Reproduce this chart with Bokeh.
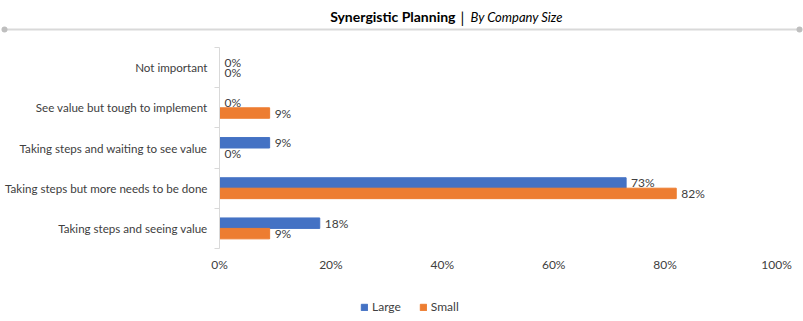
from bokeh.plotting import figure
from bokeh.layouts import column, row
from bokeh.models import (ColumnDataSource, Range1d, FixedTicker, PrintfTickFormatter, LinearAxis,
                          Legend, LegendItem, Grid)
from bokeh.core.properties import value
from bokeh.transform import dodge
from bokeh.embed import file_html
from bokeh.resources import INLINE

categories = ["Not important", "See value but tough to implement",
              "Taking steps and waiting to see value",
              "Taking steps but more needs to be done",
              "Taking steps and seeing value"]
large = [0, 0, 9, 73, 18]
small = [0, 9, 0, 82, 9]
series_names = ["Large", "Small"]
x_ticks = [0, 20, 40, 60, 80, 100]
title_main = "Synergistic Planning"
title_sub = "By Company Size"

BLUE = "#4472C4"
ORANGE = "#ED7D31"
TXT = "#404040"
FONT = "Lato"
W = 803


def hide_grids(fig):
    for r in list(fig.center):
        if isinstance(r, Grid):
            r.visible = False


# ---------- title strip ----------
t = figure(width=W, height=40, x_range=Range1d(0, W), y_range=Range1d(40, 0),
           output_backend="svg", toolbar_location=None,
           x_axis_location=None, y_axis_location=None,
           min_border_left=0, min_border_right=0, min_border_top=0, min_border_bottom=0)
t.outline_line_color = None
hide_grids(t)
t.text(x=[455], y=[16], text=[title_main], text_font=value(FONT), text_font_style="bold",
       text_font_size="14px", text_align="right", text_baseline="middle", text_color="#000000")
t.text(x=[462], y=[16], text=["|"], text_font=value(FONT), text_font_size="15px",
       text_align="center", text_baseline="middle", text_color="#000000")
t.text(x=[470], y=[16], text=[title_sub], text_font=value(FONT), text_font_style="italic",
       text_font_size="13px", text_align="left", text_baseline="middle", text_color="#000000")
t.segment(x0=[4], y0=[29], x1=[799], y1=[29], line_color="#d9d9d9", line_width=2)
t.scatter(x=[4, 799], y=[29, 29], size=6, marker="circle", fill_color="#bfbfbf", line_color=None)

# ---------- main chart ----------
n = len(categories)
ypos = [n - 1 - i + 0.5 for i in range(n)]

src = ColumnDataSource(dict(
    y=ypos, large=large, small=small,
    large_lbl=[f"{v}%" for v in large],
    small_lbl=[f"{v}%" for v in small],
))

p = figure(width=W, height=253, x_range=Range1d(0, 100), y_range=Range1d(0, n),
           output_backend="svg", toolbar_location=None,
           x_axis_location=None, y_axis_location=None,
           min_border_left=219, min_border_right=27, min_border_top=7, min_border_bottom=45)
p.outline_line_color = None
hide_grids(p)

off = 0.13
bh = 0.26
r_large = p.hbar(y=dodge("y", off, range=p.y_range), left=0, right="large", height=bh,
                 color=BLUE, source=src)
r_small = p.hbar(y=dodge("y", -off, range=p.y_range), left=0, right="small", height=bh,
                 color=ORANGE, source=src)

lbl_kw = dict(x_offset=5, text_baseline="middle", text_align="left",
              text_font=value(FONT), text_font_size="12px", text_color=TXT, source=src)
p.text(x="large", y=dodge("y", off, range=p.y_range), text="large_lbl", **lbl_kw)
p.text(x="small", y=dodge("y", -off, range=p.y_range), text="small_lbl", **lbl_kw)

overrides = {}
for yv, c in zip(ypos, categories):
    overrides[yv] = c
    overrides[str(yv)] = c
yaxis = LinearAxis(ticker=FixedTicker(ticks=ypos, minor_ticks=list(range(n + 1))),
                   major_label_overrides=overrides,
                   axis_line_color="#d9d9d9", major_tick_line_color=None,
                   major_tick_out=0, major_tick_in=0,
                   minor_tick_out=5, minor_tick_in=0, minor_tick_line_color="#d9d9d9",
                   major_label_standoff=7, major_label_text_font=FONT,
                   major_label_text_font_size="11.6px", major_label_text_color=TXT)
p.add_layout(yaxis, "left")

xaxis = LinearAxis(ticker=FixedTicker(ticks=x_ticks), formatter=PrintfTickFormatter(format="%d%%"),
                   axis_line_color=None, major_tick_line_color=None, minor_tick_line_color=None,
                   major_tick_out=0, major_tick_in=0, major_label_standoff=8,
                   major_label_text_font=FONT, major_label_text_font_size="12px",
                   major_label_text_color=TXT)
p.add_layout(xaxis, "below")

# ---------- legend strip ----------
lg = figure(width=W, height=28, x_range=Range1d(1000, 1001), y_range=Range1d(1000, 1001),
            output_backend="svg", toolbar_location=None,
            x_axis_location=None, y_axis_location=None,
            min_border_left=0, min_border_right=0, min_border_top=0, min_border_bottom=0)
lg.outline_line_color = None
hide_grids(lg)
# swatch renderers share the data but lie outside this strip's ranges (only legend shows)
sw_large = lg.hbar(y="y", left=0, right="large", height=bh, color=BLUE, source=src)
sw_small = lg.hbar(y="y", left=0, right="small", height=bh, color=ORANGE, source=src)
legend = Legend(items=[LegendItem(label=series_names[0], renderers=[sw_large]),
                       LegendItem(label=series_names[1], renderers=[sw_small])],
                location=(360, 7), orientation="horizontal",
                border_line_color=None, background_fill_alpha=0, padding=0, margin=0,
                spacing=18, glyph_width=8, glyph_height=8, label_standoff=4,
                label_height=14, label_text_font=FONT, label_text_font_size="12px",
                label_text_color=TXT)
lg.add_layout(legend, "center")

layout = column(row(t), p, row(lg), spacing=0)
open("out.html", "w").write(file_html(layout, INLINE))
